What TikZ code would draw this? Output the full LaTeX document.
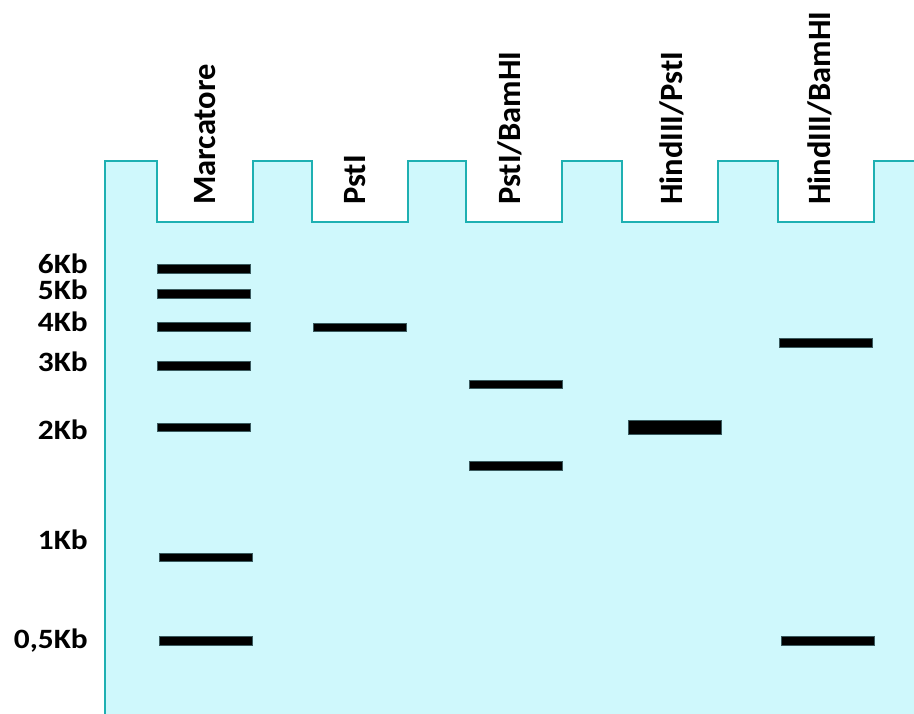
\documentclass[tikz,border=0pt]{standalone}
\usepackage{fontspec}
\setmainfont{Carlito}
\definecolor{gelfill}{HTML}{CFF8FC}
\definecolor{geledge}{HTML}{1EB0B2}
\definecolor{bandedge}{HTML}{3A5A5E}
\tikzset{
  gel/.style={fill=gelfill, draw=geledge, line width=1.8pt, line join=miter},
  band/.style={rectangle, fill=black, draw=bandedge, line width=0.6pt, inner sep=0pt,
    minimum width=93pt, minimum height=8.5pt},
  thickband/.style={band, minimum height=14pt},
  kblabel/.style={anchor=base east, inner sep=0pt, font=\bfseries\fontsize{28}{30}\selectfont},
  lanelabel/.style={anchor=base west, rotate=90, inner sep=0pt, font=\bfseries\fontsize{32.5}{34}\selectfont}
}
\begin{document}
\begin{tikzpicture}[x=1pt,y=-1pt]
\useasboundingbox (0,0) rectangle (914,713);
\begin{scope}
\clip (0,0) rectangle (914,713);
\path[gel] (105,720) -- (105,161) -- (157,161) -- (157,222) -- (253,222) -- (253,161)
  -- (312,161) -- (312,222) -- (408,222) -- (408,161)
  -- (466,161) -- (466,222) -- (562,222) -- (562,161)
  -- (622,161) -- (622,222) -- (718,222) -- (718,161)
  -- (778,161) -- (778,222) -- (874,222) -- (874,161) -- (920,161) -- (920,720) -- cycle;
\end{scope}
% marker bands
\node[band] (m6) at (203.5,269) {};
\node[band] (m5) at (203.5,294) {};
\node[band] (m4) at (203.5,327) {};
\node[band] (m3) at (203.5,366) {};
\node[band] (m2) at (203.5,427.5) {};
\node[band] (m1) at (206,557.5) {};
\node[band] (m05) at (206,641) {};
% PstI
\node[band] (p1) at (360,327.5) {};
% PstI/BamHI
\node[band] (pb1) at (516,384.5) {};
\node[band] (pb2) at (516,466) {};
% HindIII/PstI
\node[thickband] (hp1) at (675,427) {};
% HindIII/BamHI
\node[band] (hb1) at (826,343) {};
\node[band] (hb2) at (828,641) {};
% size labels
\node[kblabel] (l6) at (88,273) {\scalebox{1.12}[1]{6Kb}};
\node[kblabel] (l5) at (88,299) {\scalebox{1.12}[1]{5Kb}};
\node[kblabel] (l4) at (88,331) {\scalebox{1.12}[1]{4Kb}};
\node[kblabel] (l3) at (88,371) {\scalebox{1.12}[1]{3Kb}};
\node[kblabel] (l2) at (88,439) {\scalebox{1.12}[1]{2Kb}};
\node[kblabel] (l1) at (88,549) {\scalebox{1.12}[1]{1Kb}};
\node[kblabel] (l05) at (88,648) {\scalebox{1.12}[1]{0,5Kb}};
% lane labels
\node[lanelabel] (t1) at (215,205) {Marcatore};
\node[lanelabel] (t2) at (365,205) {PstI};
\node[lanelabel] (t3) at (520,205) {PstI/BamHI};
\node[lanelabel] (t4) at (682,205) {HindIII/PstI};
\node[lanelabel] (t5) at (830,205) {HindIII/BamHI};
\end{tikzpicture}
\end{document}
